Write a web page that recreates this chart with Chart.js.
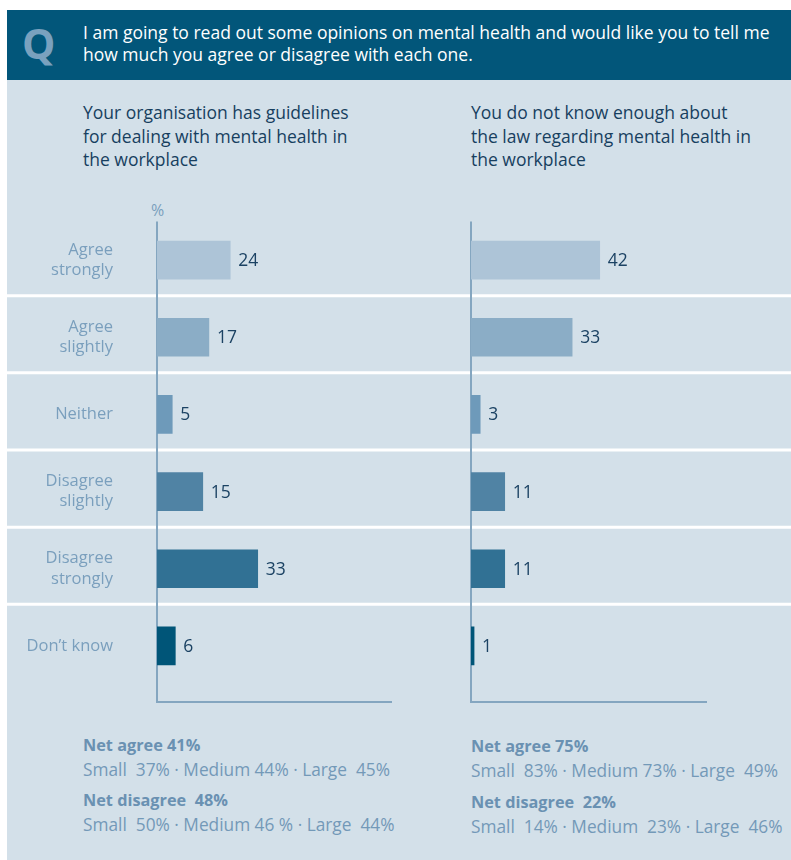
<!DOCTYPE html>
<html>
<head>
<meta charset="utf-8">
<script src="https://cdn.jsdelivr.net/npm/chart.js@4"></script>
<style>
  body { margin: 0; width: 791px; height: 860px; position: relative; background: #fff; font-family: "Open Sans", sans-serif; overflow: hidden; }
  .abs { position: absolute; }
  #header { left: 7px; top: 10px; width: 784px; height: 70px; background: #02567a; }
  #panel { left: 7px; top: 80px; width: 784px; height: 780px; background: #d3e0e9; }
  #q { left: 22px; top: 18px; font-size: 42px; font-weight: bold; color: #7aa1be; line-height: 50px; }
  #question { left: 83px; top: 21px; color: #fff; font-size: 17.5px; line-height: 22px; }
  .title { top: 101px; color: #173f5f; font-size: 17.5px; line-height: 23.5px; }
  .pct { left: 151px; top: 199px; color: #7a9fbd; font-size: 16px; }
  .net { color: #7399b8; font-size: 17.3px; line-height: 23.5px; }
  .net b { color: #6a91b2; font-size: 16.3px; }
  canvas { position: absolute; top: 190px; }
</style>
</head>
<body>
<div id="header" class="abs"></div>
<div id="panel" class="abs"></div>
<div id="q" class="abs">Q</div>
<div id="question" class="abs">I am going to read out some opinions on mental health and would like you to tell me<br>how much you agree or disagree with each one.</div>

<div class="abs title" style="left:83px">Your organisation has guidelines<br>for dealing with mental health in<br>the workplace</div>
<div class="abs title" style="left:471px">You do not know enough about<br>the law regarding mental health in<br>the workplace</div>
<div class="abs pct">%</div>

<canvas id="left" width="433" height="530" style="left:7px"></canvas>
<canvas id="right" width="351" height="530" style="left:440px"></canvas>

<div class="abs net" style="left:83px; top:733px"><b>Net agree 41%</b><br>Small&nbsp; 37% · Medium 44% · Large&nbsp; 45%</div>
<div class="abs net" style="left:83px; top:788px"><b>Net disagree&nbsp; 48%</b><br>Small&nbsp; 50% · Medium 46 % · Large&nbsp; 44%</div>
<div class="abs net" style="left:471px; top:734px"><b>Net agree 75%</b><br>Small&nbsp; 83% · Medium 73% · Large&nbsp; 49%</div>
<div class="abs net" style="left:471px; top:790px"><b>Net disagree&nbsp; 22%</b><br>Small&nbsp; 14% · Medium&nbsp; 23% · Large&nbsp; 46%</div>

<script>
const categories = [
  ["Agree", "strongly"],
  ["Agree", "slightly"],
  "Neither",
  ["Disagree", "slightly"],
  ["Disagree", "strongly"],
  "Don\u2019t know"
];
const guidelinesValues = [24, 17, 5, 15, 33, 6];
const lawValues = [42, 33, 3, 11, 11, 1];
const barColours = ["#adc4d7", "#8badc6", "#6e9aba", "#5083a4", "#317194", "#005578"];

// white row dividers, the L-shaped axis and the value next to each bar
const rowsAndAxis = {
  id: "rowsAndAxis",
  beforeDatasetsDraw(chart) {
    const ctx = chart.ctx;
    const y = chart.scales.y;
    const area = chart.chartArea;
    ctx.save();
    ctx.strokeStyle = "#ffffff";
    ctx.lineWidth = 3;
    for (let i = 0; i < categories.length - 1; i++) {
      const mid = (y.getPixelForTick(i) + y.getPixelForTick(i + 1)) / 2 - 3;
      ctx.beginPath();
      ctx.moveTo(0, mid);
      ctx.lineTo(chart.width, mid);
      ctx.stroke();
    }
    const base = area.bottom + 17.5;
    ctx.strokeStyle = "#84a6c0";
    ctx.lineWidth = 2;
    ctx.beginPath();
    ctx.moveTo(area.left, area.top);
    ctx.lineTo(area.left, base);
    ctx.lineTo(area.right, base);
    ctx.stroke();
    ctx.restore();
  },
  afterDatasetsDraw(chart) {
    const ctx = chart.ctx;
    const meta = chart.getDatasetMeta(0);
    const data = chart.data.datasets[0].data;
    ctx.save();
    ctx.font = "17.5px 'Open Sans'";
    ctx.fillStyle = "#1b4263";
    ctx.textBaseline = "middle";
    meta.data.forEach((bar, i) => {
      ctx.fillText(String(data[i]), bar.x + 8, bar.y + 1);
    });
    ctx.restore();
  }
};

function makeChart(id, values, showLabels, axisWidth, rightPad) {
  return new Chart(document.getElementById(id), {
    type: "bar",
    data: {
      labels: categories,
      datasets: [{
        data: values,
        backgroundColor: barColours,
        barThickness: 38,
        borderWidth: 0
      }]
    },
    options: {
      indexAxis: "y",
      responsive: false,
      devicePixelRatio: 1,
      animation: false,
      layout: { padding: { top: 31.5, bottom: 35.5, right: rightPad, left: 0 } },
      plugins: { legend: { display: false }, tooltip: { enabled: false } },
      scales: {
        x: { display: false, min: 0, max: 77 },
        y: {
          offset: true,
          grid: { display: false, drawTicks: false },
          border: { display: false },
          ticks: {
            display: showLabels,
            padding: 44,
            color: "#7a9fbd",
            font: { family: "'Open Sans'", size: 16.5, lineHeight: 1.22 }
          },
          afterFit(scale) {
            // keep the label gap from pushing the plot area inwards
            scale.width = axisWidth;
            scale.paddingTop = 0;
            scale.paddingBottom = 0;
          }
        }
      }
    },
    plugins: [rowsAndAxis]
  });
}

makeChart("left", guidelinesValues, true, 150, 48);
makeChart("right", lawValues, false, 31, 84);
</script>
</body>
</html>
